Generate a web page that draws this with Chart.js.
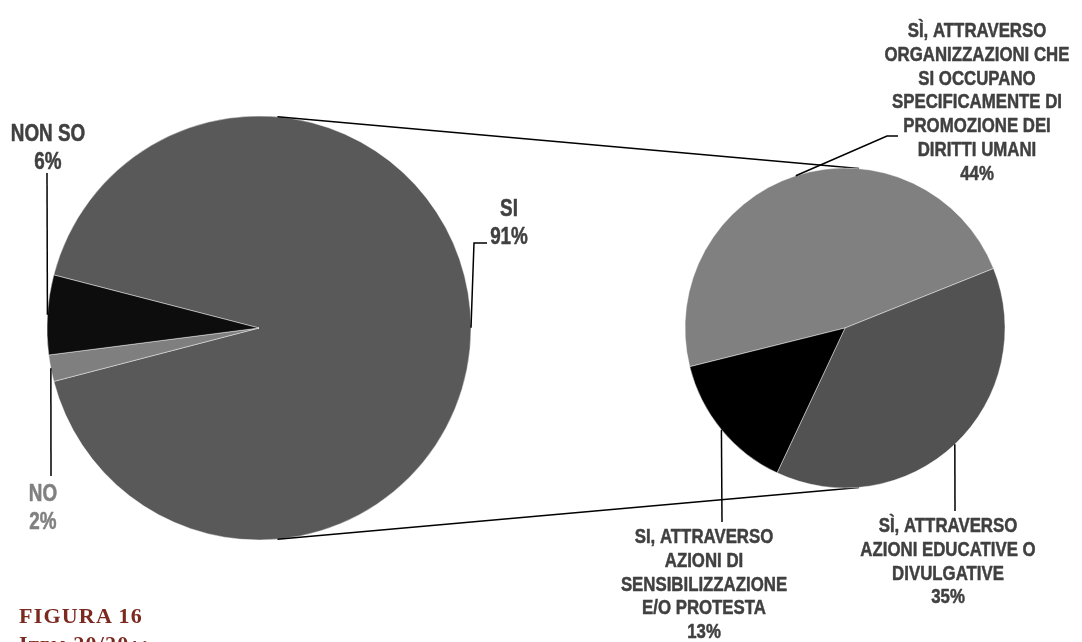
<!DOCTYPE html>
<html lang="it">
<head>
<meta charset="utf-8">
<title>Figura 16</title>
<script src="https://cdn.jsdelivr.net/npm/chart.js@4/dist/chart.umd.min.js"></script>
<style>
  html, body { margin: 0; padding: 0; background: #ffffff; }
  #wrap { position: relative; width: 1082px; height: 642px; overflow: hidden; }
  #wrap canvas { position: absolute; left: 0; top: 0; }
  #caption {
    position: absolute; left: 19px; top: 602px;
    font-family: "Liberation Serif", "DejaVu Serif", serif;
    font-weight: bold; font-size: 22px; line-height: 28px;
    letter-spacing: 1.2px; color: #7b2a1f; white-space: nowrap;
  }
  #caption .sc { font-variant: small-caps; }
</style>
</head>
<body>
<div id="wrap">
  <canvas id="mainPie" width="1082" height="642"></canvas>
  <canvas id="detailPie" width="1082" height="642"></canvas>
  <div id="caption">FIGURA 16<br><span class="sc">Item 20/20a:</span></div>
</div>
<script>
// Main question: answers
const mainLabels = ['SI', 'NO', 'NON SO'];
const mainValues = [91, 2, 6];
const mainColors = ['#595959', '#7f7f7f', '#0d0d0d'];

// Breakdown of the "SI" answers (label text split into lines)
const detailLabels = [
  ['SÌ, ATTRAVERSO', 'ORGANIZZAZIONI CHE', 'SI OCCUPANO', 'SPECIFICAMENTE DI', 'PROMOZIONE DEI', 'DIRITTI UMANI'],
  ['SÌ, ATTRAVERSO', 'AZIONI EDUCATIVE O', 'DIVULGATIVE'],
  ['SI, ATTRAVERSO', 'AZIONI DI', 'SENSIBILIZZAZIONE', 'E/O PROTESTA']
];
const detailValues = [44, 35, 13];
const detailColors = ['#808080', '#525252', '#000000'];

// Label placement: first baseline, leader elbow points, text colour
const mainLabelLayout = [
  { x: 509, y: 216, color: '#404040', leader: [[474, 243], [487, 243]] },
  { x: 43,  y: 501, color: '#808080', leader: [[51, 476]] },
  { x: 48,  y: 141, color: '#404040', leader: [[47, 173]] }
];
const detailLabelLayout = [
  { x: 977, y: 37,  color: '#404040', leader: [[887, 136], [898, 136]] },
  { x: 948, y: 532, color: '#404040', leader: [[955, 511]] },
  { x: 704, y: 543, color: '#404040', leader: [[722, 522]] }
];

const LABEL_FONT = '"Liberation Sans", Arial, sans-serif';
const NARROW = 0.82;            // horizontal squeeze for a narrow bold face
const CONNECTOR_TILT = 5;       // degrees off vertical where the joining lines touch both pies

function drawNarrowText(ctx, text, x, y, size, color) {
  ctx.save();
  ctx.font = 'bold ' + size + 'px ' + LABEL_FONT;
  ctx.fillStyle = color;
  ctx.strokeStyle = color;
  ctx.lineWidth = 0.5;
  ctx.lineJoin = 'round';
  ctx.textAlign = 'center';
  ctx.textBaseline = 'alphabetic';
  ctx.translate(x, y);
  ctx.scale(NARROW, 1);
  ctx.fillText(text, 0, 0);
  ctx.strokeText(text, 0, 0);
  ctx.restore();
}

function makeLabelPlugin(id, linesFor, values, layout, size, lineHeight) {
  return {
    id: id,
    afterDatasetsDraw(chart) {
      const ctx = chart.ctx;
      const arcs = chart.getDatasetMeta(0).data;
      arcs.forEach((arc, i) => {
        const p = arc.getProps(['x', 'y', 'startAngle', 'endAngle', 'outerRadius'], true);
        const mid = (p.startAngle + p.endAngle) / 2;
        const ex = p.x + Math.cos(mid) * p.outerRadius;
        const ey = p.y + Math.sin(mid) * p.outerRadius;
        const lay = layout[i];
        ctx.save();
        ctx.strokeStyle = '#000000';
        ctx.lineWidth = 1.5;
        ctx.beginPath();
        ctx.moveTo(ex, ey);
        lay.leader.forEach(pt => ctx.lineTo(pt[0], pt[1]));
        ctx.stroke();
        ctx.restore();
        const lines = linesFor(i).concat([values[i] + '%']);
        lines.forEach((t, k) => drawNarrowText(ctx, t, lay.x, lay.y + k * lineHeight, size, lay.color));
      });
    }
  };
}

const mainChart = new Chart(document.getElementById('mainPie'), {
  type: 'pie',
  data: {
    labels: mainLabels,
    datasets: [{
      data: mainValues,
      backgroundColor: mainColors,
      borderColor: 'rgba(255,255,255,0.55)',
      borderWidth: 0.8,
      hoverOffset: 0
    }]
  },
  options: {
    responsive: false,
    animation: false,
    events: [],
    radius: 212,
    rotation: 284.5,
    layout: { padding: { left: 47, top: 116, right: 611, bottom: 102 } },
    plugins: { legend: { display: false }, tooltip: { enabled: false } }
  },
  plugins: [makeLabelPlugin('mainLabels', i => [mainLabels[i]], mainValues, mainLabelLayout, 23, 27.5)]
});

// Lines joining the top and bottom of the main pie to the breakdown pie
const connectorPlugin = {
  id: 'connectors',
  beforeDatasetsDraw(chart) {
    const a = mainChart.getDatasetMeta(0).data[0].getProps(['x', 'y', 'outerRadius'], true);
    const b = chart.getDatasetMeta(0).data[0].getProps(['x', 'y', 'outerRadius'], true);
    const tilt = CONNECTOR_TILT * Math.PI / 180;
    const ctx = chart.ctx;
    ctx.save();
    ctx.strokeStyle = '#000000';
    ctx.lineWidth = 1.5;
    [-Math.PI / 2 + tilt, Math.PI / 2 - tilt].forEach(ang => {
      const c = Math.cos(ang), s = Math.sin(ang);
      ctx.beginPath();
      ctx.moveTo(a.x + c * a.outerRadius, a.y + s * a.outerRadius);
      ctx.lineTo(b.x + c * b.outerRadius, b.y + s * b.outerRadius);
      ctx.stroke();
    });
    ctx.restore();
  }
};

new Chart(document.getElementById('detailPie'), {
  type: 'pie',
  data: {
    labels: detailLabels.map(l => l.join(' ')),
    datasets: [{
      data: detailValues,
      backgroundColor: detailColors,
      borderColor: 'rgba(255,255,255,0.55)',
      borderWidth: 0.8,
      hoverOffset: 0
    }]
  },
  options: {
    responsive: false,
    animation: false,
    events: [],
    radius: 160,
    rotation: 256,
    layout: { padding: { left: 685, top: 168, right: 77, bottom: 154 } },
    plugins: { legend: { display: false }, tooltip: { enabled: false } }
  },
  plugins: [connectorPlugin, makeLabelPlugin('detailLabels', i => detailLabels[i], detailValues, detailLabelLayout, 20.5, 23.8)]
});
</script>
</body>
</html>
